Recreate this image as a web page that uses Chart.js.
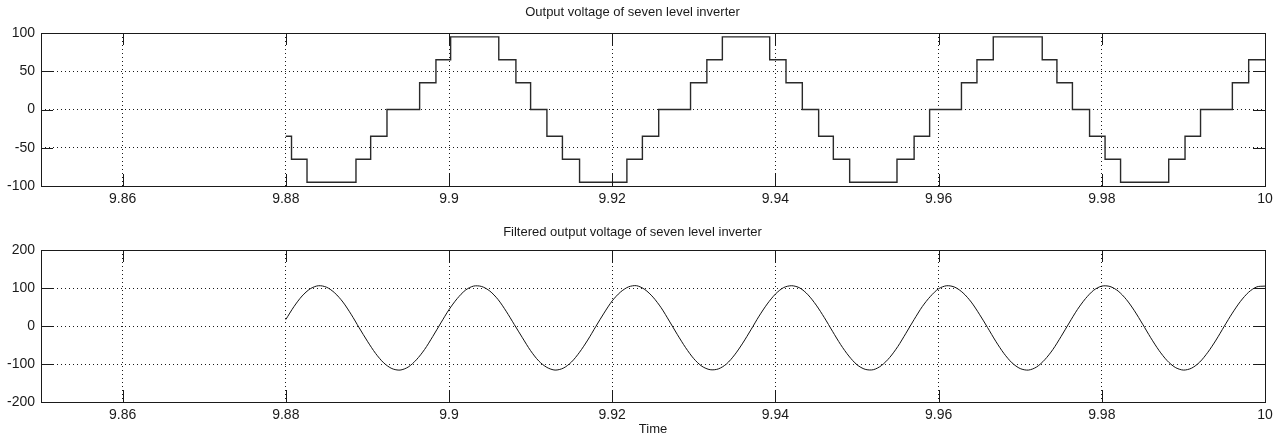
<!DOCTYPE html>
<html>
<head>
<meta charset="utf-8">
<script src="https://cdn.jsdelivr.net/npm/chart.js@4.4.1/dist/chart.umd.min.js"></script>
<style>
  html, body { margin: 0; padding: 0; background: #fff; }
  body { width: 1279px; height: 437px; position: relative; overflow: hidden; }
  .panel { position: absolute; left: 0; width: 1279px; }
  #top { top: 0; height: 215px; }
  #bottom { top: 215px; height: 222px; }
</style>
</head>
<body>
<div class="panel" id="top"><canvas id="stepChart"></canvas></div>
<div class="panel" id="bottom"><canvas id="filterChart"></canvas></div>
<script>
// x ticks shared by both panels
const timeTicks = [9.86, 9.88, 9.9, 9.92, 9.94, 9.96, 9.98, 10];
const stepYTicks = [-100, -50, 0, 50, 100];
const filterYTicks = [-200, -100, 0, 100, 200];

// seven level staircase: switching instants and the level held from that instant
const stepTimes = [9.8800, 9.8807, 9.8826, 9.8886, 9.8904, 9.8924, 9.8964, 9.8984, 9.9002,
  9.9061, 9.9082, 9.9100, 9.9120, 9.9139, 9.9160, 9.9218, 9.9237, 9.9257, 9.9296, 9.9316, 9.9335,
  9.9393, 9.9413, 9.9433, 9.9453, 9.9471, 9.9491, 9.9549, 9.9570, 9.9589, 9.9628, 9.9647, 9.9667,
  9.9727, 9.9745, 9.9764, 9.9785, 9.9804, 9.9823, 9.9882, 9.9902, 9.9921, 9.9960, 9.9980, 10.0];
const stepLevels = [-35, -65, -95, -65, -35, 0, 35, 65, 95,
  65, 35, 0, -35, -65, -95, -65, -35, 0, 35, 65, 95,
  65, 35, 0, -35, -65, -95, -65, -35, 0, 35, 65, 95,
  65, 35, 0, -35, -65, -95, -65, -35, 0, 35, 65, 65];

// filtered output, sampled every 1 ms from 9.880 s
const filterStart = 9.88;
const filterStep = 0.001;
const filterValues = [17, 51, 79, 98, 106, 102, 87, 63, 31, -5,
  -40, -72, -97, -112, -116, -108, -89, -62, -28, 8,
  43, 72, 94, 105, 104, 92, 70, 39, 4, -31,
  -65, -92, -109, -116, -111, -95, -69, -37, -1, 34,
  66, 89, 103, 106, 96, 76, 48, 13, -23, -57,
  -86, -106, -115, -113, -100, -76, -45, -10, 26, 58,
  84, 101, 106, 100, 82, 55, 22, -14, -49, -79,
  -102, -114, -115, -104, -83, -54, -19, 17, 51, 78,
  98, 106, 102, 87, 63, 31, -4, -40, -72, -97,
  -112, -116, -108, -89, -62, -28, 8, 43, 72, 94,
  105, 104, 92, 70, 40, 5, -31, -64, -91, -109,
  -116, -111, -95, -69, -37, -1, 34, 65, 89, 103, 105];

const font = { family: 'Liberation Sans, Arial, sans-serif', size: 14 };
const ink = '#1a1a1a';

// matlab style box with inward ticks on all four sides
const matlabBox = {
  id: 'matlabBox',
  afterDraw(chart) {
    const { ctx, chartArea: a, scales } = chart;
    const len = 12;
    ctx.save();
    ctx.strokeStyle = ink;
    ctx.lineWidth = 1;
    ctx.beginPath();
    scales.x.ticks.forEach(t => {
      const px = Math.round(scales.x.getPixelForValue(t.value)) + 0.5;
      ctx.moveTo(px, a.bottom); ctx.lineTo(px, a.bottom - len);
      ctx.moveTo(px, a.top); ctx.lineTo(px, a.top + len);
    });
    scales.y.ticks.forEach(t => {
      const py = Math.round(scales.y.getPixelForValue(t.value)) + 0.5;
      ctx.moveTo(a.left, py); ctx.lineTo(a.left + len, py);
      ctx.moveTo(a.right, py); ctx.lineTo(a.right - len, py);
    });
    ctx.stroke();
    ctx.strokeRect(Math.round(a.left) + 0.5, Math.round(a.top) + 0.5,
      Math.round(a.right - a.left), Math.round(a.bottom - a.top));
    ctx.restore();
  }
};

const makeOptions = (title, titlePad, yTicks, xHeight, showTime) => ({
  responsive: true,
  maintainAspectRatio: false,
  animation: false,
  layout: { padding: { left: 0, right: 14, top: 0, bottom: 0 } },
  plugins: {
    legend: { display: false },
    tooltip: { enabled: false },
    title: {
      display: true,
      text: title,
      color: ink,
      font: { family: font.family, size: 13, weight: 'normal' },
      padding: titlePad
    }
  },
  scales: {
    x: {
      type: 'linear',
      min: 9.85,
      max: 10,
      afterBuildTicks: s => { s.ticks = timeTicks.map(v => ({ value: v })); },
      afterFit: s => { s.height = xHeight; },
      ticks: {
        color: ink, font, padding: 5, maxRotation: 0, autoSkip: false,
        callback: v => Number(v.toFixed(2)).toString()
      },
      grid: { color: ink, lineWidth: 1, drawTicks: false },
      border: { display: false, dash: [1, 3] },
      title: {
        display: showTime, text: 'Time', color: ink,
        font: { family: font.family, size: 13 }, padding: { top: 0, bottom: 0 }
      }
    },
    y: {
      type: 'linear',
      min: yTicks[0],
      max: yTicks[yTicks.length - 1],
      afterBuildTicks: s => { s.ticks = yTicks.map(v => ({ value: v })); },
      afterFit: s => { s.width = 41; },
      ticks: { color: ink, font, padding: 6 },
      grid: { color: ink, lineWidth: 1, drawTicks: false },
      border: { display: false, dash: [1, 3] }
    }
  }
});

new Chart(document.getElementById('stepChart'), {
  type: 'line',
  data: {
    datasets: [{
      data: stepTimes.map((t, i) => ({ x: t, y: stepLevels[i] })),
      stepped: true,
      borderColor: '#2a2a2a',
      borderWidth: 1.4,
      pointRadius: 0,
      fill: false
    }]
  },
  options: makeOptions('Output voltage of seven level inverter', { top: 5, bottom: 12.4 }, stepYTicks, 29, false),
  plugins: [matlabBox]
});

new Chart(document.getElementById('filterChart'), {
  type: 'line',
  data: {
    datasets: [{
      data: filterValues.map((v, i) => ({ x: filterStart + i * filterStep, y: v })),
      borderColor: '#111',
      borderWidth: 1,
      pointRadius: 0,
      tension: 0.3,
      fill: false
    }]
  },
  options: makeOptions('Filtered output voltage of seven level inverter', { top: 9.2, bottom: 10.2 }, filterYTicks, 35, true),
  plugins: [matlabBox]
});
</script>
</body>
</html>
